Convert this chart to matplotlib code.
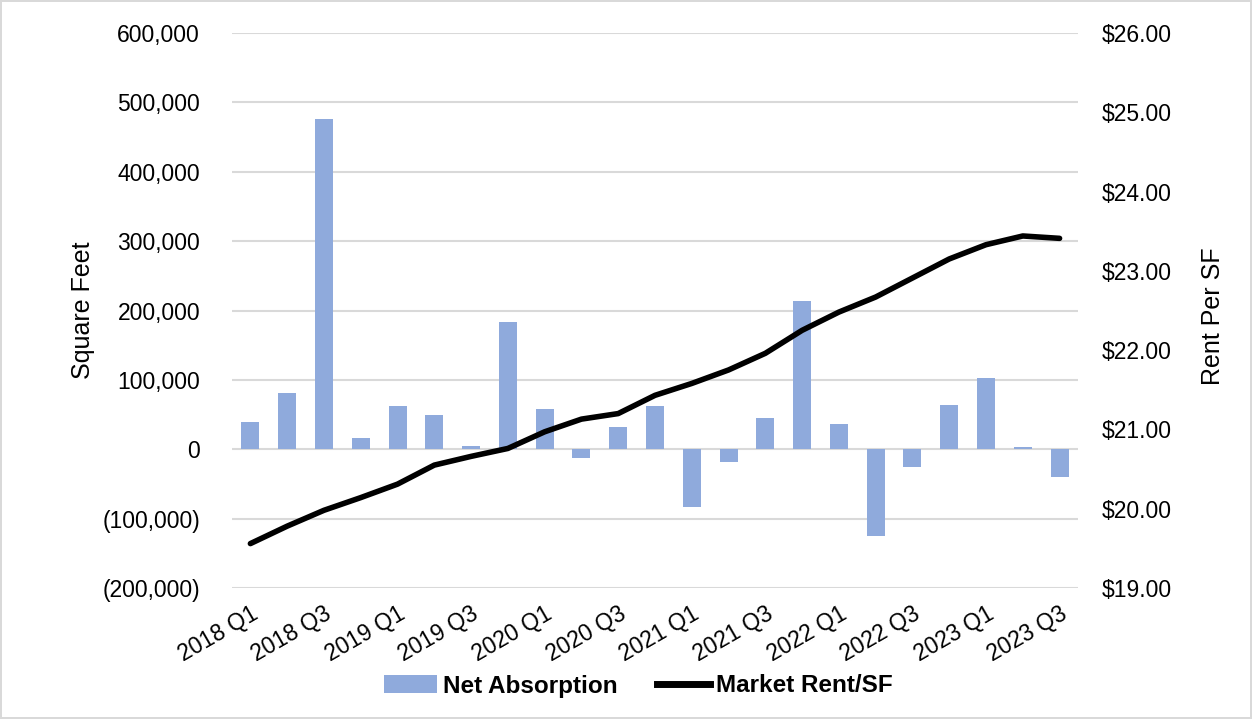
import matplotlib
matplotlib.use('Agg')
import matplotlib.pyplot as plt
from matplotlib.ticker import FuncFormatter, MultipleLocator
from matplotlib.patches import Patch
from matplotlib.lines import Line2D

plt.rcParams['font.family'] = ['Liberation Sans', 'DejaVu Sans']

# --- Data ---
quarters = [
    "2018 Q1", "2018 Q2", "2018 Q3", "2018 Q4",
    "2019 Q1", "2019 Q2", "2019 Q3", "2019 Q4",
    "2020 Q1", "2020 Q2", "2020 Q3", "2020 Q4",
    "2021 Q1", "2021 Q2", "2021 Q3", "2021 Q4",
    "2022 Q1", "2022 Q2", "2022 Q3", "2022 Q4",
    "2023 Q1", "2023 Q2", "2023 Q3",
]
net_absorption = [
    39000, 81000, 476000, 16000,
    63000, 50000, 5000, 184000,
    58000, -12000, 32000, 63000,
    -83000, -18000, 45000, 214000,
    36000, -125000, -25000, 64000,
    103000, 3000, -40000,
]
market_rent = [
    19.56, 19.78, 19.98, 20.14,
    20.31, 20.55, 20.66, 20.76,
    20.97, 21.13, 21.20, 21.43,
    21.58, 21.75, 21.96, 22.25,
    22.48, 22.67, 22.91, 23.15,
    23.33, 23.44, 23.41,
]

BAR_COLOR = '#8FAADC'
GRID_COLOR = '#D9D9D9'
TICK_SIZE = 16.5
LABEL_SIZE = 18


def sf_fmt(v, _pos):
    if v < 0:
        return f"({abs(v):,.0f})"
    return f"{v:,.0f}"


fig = plt.figure(figsize=(12.52, 7.19), dpi=100)
fig.patch.set_edgecolor(GRID_COLOR)
fig.patch.set_linewidth(1.5)
ax = fig.add_axes([0.1853, 0.1822, 0.6757, 0.7719])
ax2 = ax.twinx()

x = list(range(len(quarters)))
ax.bar(x, net_absorption, width=0.49, color=BAR_COLOR, zorder=2)
ax2.plot(x, market_rent, color='black', linewidth=4, solid_capstyle='round', zorder=3)

ax.set_xlim(-0.5, len(quarters) - 0.5)
ax.set_ylim(-200000, 600000)
ax.yaxis.set_major_locator(MultipleLocator(100000))
ax.yaxis.set_major_formatter(FuncFormatter(sf_fmt))
ax.grid(axis='y', color=GRID_COLOR, linewidth=1.5, zorder=0)
ax.set_axisbelow(True)

ax2.set_ylim(19, 26)
ax2.yaxis.set_major_locator(MultipleLocator(1))
ax2.yaxis.set_major_formatter(FuncFormatter(lambda v, _p: f"${v:,.2f}"))

for a in (ax, ax2):
    for s in a.spines.values():
        s.set_visible(False)
    a.tick_params(length=0, labelsize=TICK_SIZE)
ax.tick_params(axis='y', pad=23)
ax2.tick_params(axis='y', pad=17)

# every other quarter is labelled on the category axis
ax.set_xticks(x[::2])
ax.set_xticklabels(quarters[::2], rotation=30, ha='right', rotation_mode='anchor')
ax.tick_params(axis='x', pad=10)

ax.set_ylabel("Square Feet", fontsize=LABEL_SIZE, va='center')
ax.yaxis.set_label_coords(-0.176, 0.50)
ax2.set_ylabel("Rent Per SF", fontsize=LABEL_SIZE, va='center')
ax2.yaxis.set_label_coords(1.16, 0.49)

handles = [
    Patch(facecolor=BAR_COLOR, edgecolor='none'),
    Line2D([0], [0], color='black', linewidth=5),
]
fig.legend(handles, ["Net Absorption", "Market Rent/SF"], loc='center',
           bbox_to_anchor=(0.510, 1 - 686 / 719), ncol=2, frameon=False,
           prop={'weight': 'bold', 'size': 17.5}, handlelength=2.2,
           handletextpad=0.25, columnspacing=1.6)

fig.savefig('out.png', dpi=100)
